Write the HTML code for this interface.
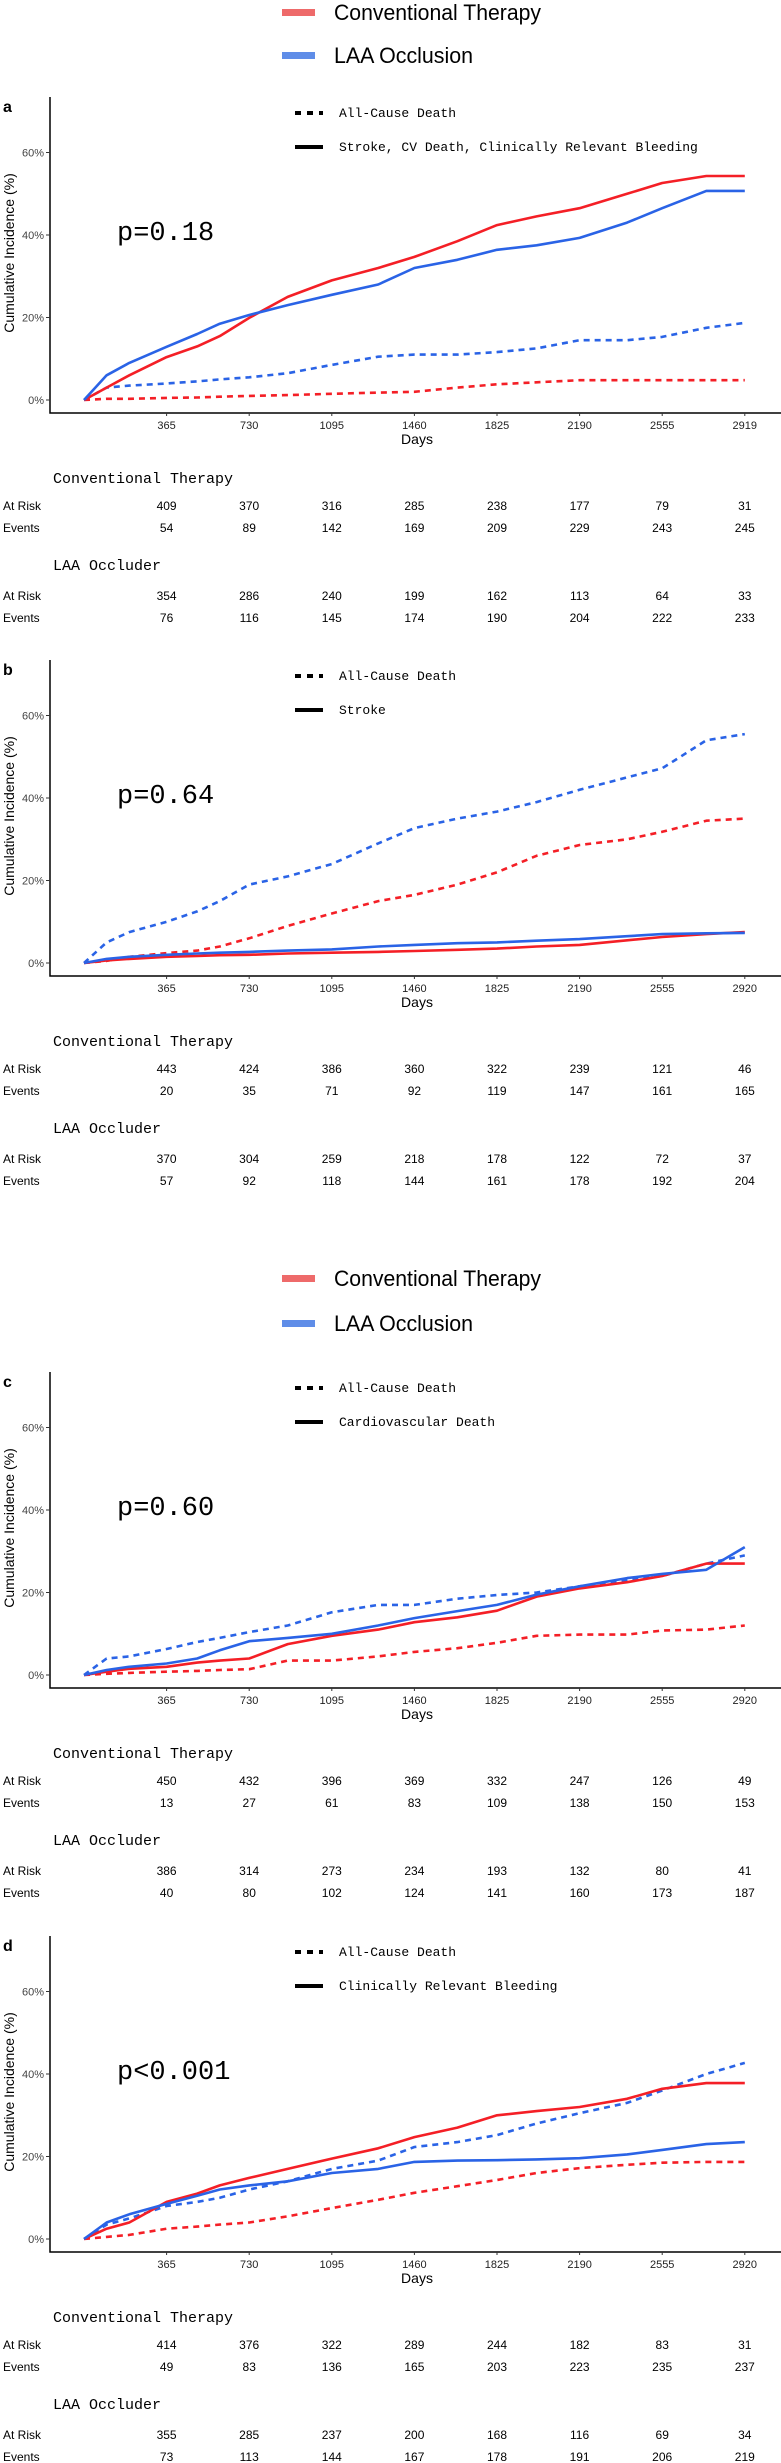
<!DOCTYPE html>
<html><head><meta charset="utf-8">
<style>
html,body{margin:0;padding:0;background:#fff;}
body{width:781px;height:2463px;overflow:hidden;}
svg{display:block;}
.mono{font-family:"Liberation Mono","DejaVu Sans Mono",monospace;}
.sans{font-family:"Liberation Sans",Arial,sans-serif;}
</style></head>
<body>
<svg id="fig" width="781" height="2463" viewBox="0 0 781 2463" xmlns="http://www.w3.org/2000/svg"></svg>
<script>
// ---- data ----
const dayGrid = [0,100,200,365,500,600,730,900,1095,1300,1460,1650,1825,2000,2190,2400,2555,2750,2920];
const xTicks = [365,730,1095,1460,1825,2190,2555,2920];
const xTickLabelsA = ["365","730","1095","1460","1825","2190","2555","2919"];
const xTickLabels = ["365","730","1095","1460","1825","2190","2555","2920"];
const yTicks = [0,20,40,60];

const aConvSolid = [0,3,6,10.4,13,15.5,19.9,25,29,32,34.7,38.5,42.4,44.5,46.5,50,52.6,54.3,54.3];
const aLaaSolid  = [0,6,9,12.9,16,18.5,20.6,23,25.5,28,32,34,36.4,37.5,39.3,43,46.5,50.7,50.7];
const aLaaDash   = [0,3,3.5,4,4.5,5,5.5,6.5,8.5,10.5,11,11,11.6,12.5,14.5,14.5,15.3,17.5,18.7];
const aConvDash  = [0,0.3,0.3,0.5,0.6,0.8,1,1.2,1.5,1.8,2,3,3.8,4.3,4.8,4.8,4.8,4.8,4.8];

const bLaaDash   = [0,5,7.5,10,12.5,15,19,21,24,29,32.7,35,36.7,39,42,45,47.2,54,55.5];
const bConvDash  = [0,0.5,1.5,2.4,3,4,6,9,12,15,16.5,19,22,26,28.6,30,31.8,34.5,35];
const bLaaSolid  = [0,1,1.5,2,2.3,2.5,2.7,3,3.3,4,4.4,4.8,5,5.4,5.8,6.5,7,7.2,7.3];
const bConvSolid = [0,0.6,1,1.5,1.7,1.9,2,2.3,2.5,2.7,2.9,3.2,3.5,4,4.4,5.5,6.3,7,7.5];

const cLaaDash   = [0,4,4.5,6.3,8,9,10.4,12,15.2,17,17,18.5,19.4,20,21.5,23,24,27,29];
const cLaaSolid  = [0,1.2,2,2.8,4,6,8.2,9,10,12,13.8,15.5,17,19.5,21.5,23.5,24.5,25.5,31];
const cConvSolid = [0,0.8,1.5,2,3,3.5,4,7.5,9.5,11,12.8,14,15.6,19,21,22.5,24,27,27];
const cConvDash  = [0,0.3,0.5,0.8,1,1.2,1.4,3.5,3.5,4.5,5.6,6.5,7.8,9.5,9.8,9.8,10.8,11,12];

const dConvSolid = [0,2.5,4,9,11,13,14.8,17,19.5,22,24.7,27,30,31,32,34,36.4,37.8,37.8];
const dLaaSolid  = [0,4,6,8.5,10.5,12,13,14,16,17,18.7,19,19.1,19.3,19.6,20.5,21.6,23,23.5];
const dLaaDash   = [0,3.5,5,8,9,10,12,14,17,19,22.3,23.5,25.2,28,30.5,33,36,40,42.7];
const dConvDash  = [0,0.5,1,2.5,3,3.5,4,5.5,7.5,9.5,11.2,12.8,14.3,16,17.2,18,18.5,18.7,18.7];

const aConvRisk = [409,370,316,285,238,177,79,31];
const aConvEv   = [54,89,142,169,209,229,243,245];
const aLaaRisk  = [354,286,240,199,162,113,64,33];
const aLaaEv    = [76,116,145,174,190,204,222,233];
const bConvRisk = [443,424,386,360,322,239,121,46];
const bConvEv   = [20,35,71,92,119,147,161,165];
const bLaaRisk  = [370,304,259,218,178,122,72,37];
const bLaaEv    = [57,92,118,144,161,178,192,204];
const cConvRisk = [450,432,396,369,332,247,126,49];
const cConvEv   = [13,27,61,83,109,138,150,153];
const cLaaRisk  = [386,314,273,234,193,132,80,41];
const cLaaEv    = [40,80,102,124,141,160,173,187];
const dConvRisk = [414,376,322,289,244,182,83,31];
const dConvEv   = [49,83,136,165,203,223,235,237];
const dLaaRisk  = [355,285,237,200,168,116,69,34];
const dLaaEv    = [73,113,144,167,178,191,206,219];

const RED = "#f41f26", BLUE = "#2a63e6";
const NS = "http://www.w3.org/2000/svg";
const svg = document.getElementById('fig');

function el(tag, attrs, parent, text){
  const e = document.createElementNS(NS, tag);
  for (const k in attrs) e.setAttribute(k, attrs[k]);
  if (text !== undefined) e.textContent = text;
  (parent || svg).appendChild(e);
  return e;
}
function xScale(d){ return 84 + d * 82.6 / 365; }

function legendTop(y1, y2){
  const g = el('g', {});
  
  
  const r = el('rect', {x:282, y:y1-3, width:33, height:7, fill:"#ee6a6a"}, g);
  
  
  const t1 = el('text', {x:334, y:y1+8, 'font-size':22, class:'sans', fill:'#000', textLength:207, lengthAdjust:'spacingAndGlyphs'}, g, 'Conventional Therapy');
  
  
  const b = el('rect', {x:282, y:y2-3, width:33, height:7, fill:"#5f8de8"}, g);
  
  
  const t2 = el('text', {x:334, y:y2+8, 'font-size':22, class:'sans', fill:'#000', textLength:139, lengthAdjust:'spacingAndGlyphs'}, g, 'LAA Occlusion');
  
  
}

function panel(opts){
  const z = opts.zero;
  const yS = v => z - v * 4.125;
  const top = z - 303, bot = z + 13;
  const g = el('g', {});
  
  

  const lab = el('text', {x:3, y:top+15, 'font-size':16, 'font-weight':'bold', class:'sans'}, g, opts.letter);
  
  

  const ax = el('path', {d:`M50 ${top} V${bot} H781`, fill:'none', stroke:'#000', 'stroke-width':1.5}, g);
  
  

  yTicks.forEach(v => {
    const tk = el('line', {x1:46, x2:50, y1:yS(v), y2:yS(v), stroke:'#333', 'stroke-width':1}, g);
    
    
    const tl = el('text', {x:44, y:yS(v)+4, 'font-size':11, 'text-anchor':'end', class:'sans', fill:'#444'}, g, v + '%');
    
    
  });
  const labels = opts.letter === 'a' ? xTickLabelsA : xTickLabels;
  xTicks.forEach((d, i) => {
    const tk = el('line', {x1:xScale(d), x2:xScale(d), y1:bot, y2:bot+3, stroke:'#333', 'stroke-width':1}, g);
    
    
    const tl = el('text', {x:xScale(d), y:z+29, 'font-size':11, 'text-anchor':'middle', class:'sans', fill:'#222'}, g, labels[i]);
    
    
  });
  const xt = el('text', {x:417, y:z+44, 'font-size':14, 'text-anchor':'middle', class:'sans'}, g, 'Days');
  
  
  const yt = el('text', {x:0, y:0, 'font-size':14, 'text-anchor':'middle', class:'sans', transform:`translate(14 ${z-147}) rotate(-90)`}, g, 'Cumulative Incidence (%)');
  
  

  const dl = el('line', {x1:295, x2:323, y1:top+16, y2:top+16, stroke:'#000', 'stroke-width':4, 'stroke-dasharray':'6 6'}, g);
  
  
  const dt = el('text', {x:339, y:top+20, 'font-size':13, class:'mono'}, g, 'All-Cause Death');
  
  
  const sl = el('line', {x1:295, x2:323, y1:top+50, y2:top+50, stroke:'#000', 'stroke-width':4}, g);
  
  
  const st = el('text', {x:339, y:top+54, 'font-size':13, class:'mono'}, g, opts.solidLabel);
  
  

  const p = el('text', {x:117, y:z-160, 'font-size':27, class:'mono'}, g, opts.p);
  
  

  opts.series.forEach(s => {
    let d = `M${xScale(dayGrid[0])} ${yS(s.v[0])}`;
    for (let i = 1; i < dayGrid.length; i++) {
      const x = xScale(dayGrid[i]);
      if (i === dayGrid.length - 1 && s.v[i] === s.v[i-1]) {
        d += ` H${x.toFixed(1)}`;
      } else {
        d += ` L${x.toFixed(1)} ${yS(s.v[i]).toFixed(1)}`;
      }
    }
    const path = el('path', {d:d, fill:'none', stroke:s.c, 'stroke-width':2.6, 'stroke-linejoin':'round', 'stroke-dasharray': s.dash ? '6 5' : 'none'}, g);
    
    
  });

  function row(label, arr, y){
    const l = el('text', {x:3, y:y+4, 'font-size':12, class:'sans'}, g, label);
    
    
    arr.forEach((v, i) => {
      const t = el('text', {x:xScale(xTicks[i]), y:y+4, 'font-size':12, 'text-anchor':'middle', class:'sans'}, g, String(v));
      
      
    });
  }
  const t1 = el('text', {x:53, y:z+83, 'font-size':15, class:'mono'}, g, 'Conventional Therapy');
  
  
  row('At Risk', opts.cr, z+106);
  row('Events', opts.ce, z+128);
  const t2 = el('text', {x:53, y:z+170, 'font-size':15, class:'mono'}, g, 'LAA Occluder');
  
  
  row('At Risk', opts.lr, z+196);
  row('Events', opts.le, z+218);
}

legendTop(12, 55);
legendTop(1278, 1323);

panel({letter:'a', zero:400, p:'p=0.18', solidLabel:'Stroke, CV Death, Clinically Relevant Bleeding',
  series:[{v:aConvDash,c:RED,dash:true,name:'line-conventional-all-cause-death'},
          {v:aLaaDash,c:BLUE,dash:true,name:'line-laa-all-cause-death'},
          {v:aConvSolid,c:RED,dash:false,name:'line-conventional-composite'},
          {v:aLaaSolid,c:BLUE,dash:false,name:'line-laa-composite'}],
  cr:aConvRisk, ce:aConvEv, lr:aLaaRisk, le:aLaaEv});
panel({letter:'b', zero:963, p:'p=0.64', solidLabel:'Stroke',
  series:[{v:bConvDash,c:RED,dash:true,name:'line-conventional-all-cause-death'},
          {v:bLaaDash,c:BLUE,dash:true,name:'line-laa-all-cause-death'},
          {v:bConvSolid,c:RED,dash:false,name:'line-conventional-stroke'},
          {v:bLaaSolid,c:BLUE,dash:false,name:'line-laa-stroke'}],
  cr:bConvRisk, ce:bConvEv, lr:bLaaRisk, le:bLaaEv});
panel({letter:'c', zero:1675, p:'p=0.60', solidLabel:'Cardiovascular Death',
  series:[{v:cConvDash,c:RED,dash:true,name:'line-conventional-all-cause-death'},
          {v:cLaaDash,c:BLUE,dash:true,name:'line-laa-all-cause-death'},
          {v:cConvSolid,c:RED,dash:false,name:'line-conventional-cv-death'},
          {v:cLaaSolid,c:BLUE,dash:false,name:'line-laa-cv-death'}],
  cr:cConvRisk, ce:cConvEv, lr:cLaaRisk, le:cLaaEv});
panel({letter:'d', zero:2239, p:'p<0.001', solidLabel:'Clinically Relevant Bleeding',
  series:[{v:dConvDash,c:RED,dash:true,name:'line-conventional-all-cause-death'},
          {v:dLaaDash,c:BLUE,dash:true,name:'line-laa-all-cause-death'},
          {v:dConvSolid,c:RED,dash:false,name:'line-conventional-bleeding'},
          {v:dLaaSolid,c:BLUE,dash:false,name:'line-laa-bleeding'}],
  cr:dConvRisk, ce:dConvEv, lr:dLaaRisk, le:dLaaEv});
</script>
</body></html>
